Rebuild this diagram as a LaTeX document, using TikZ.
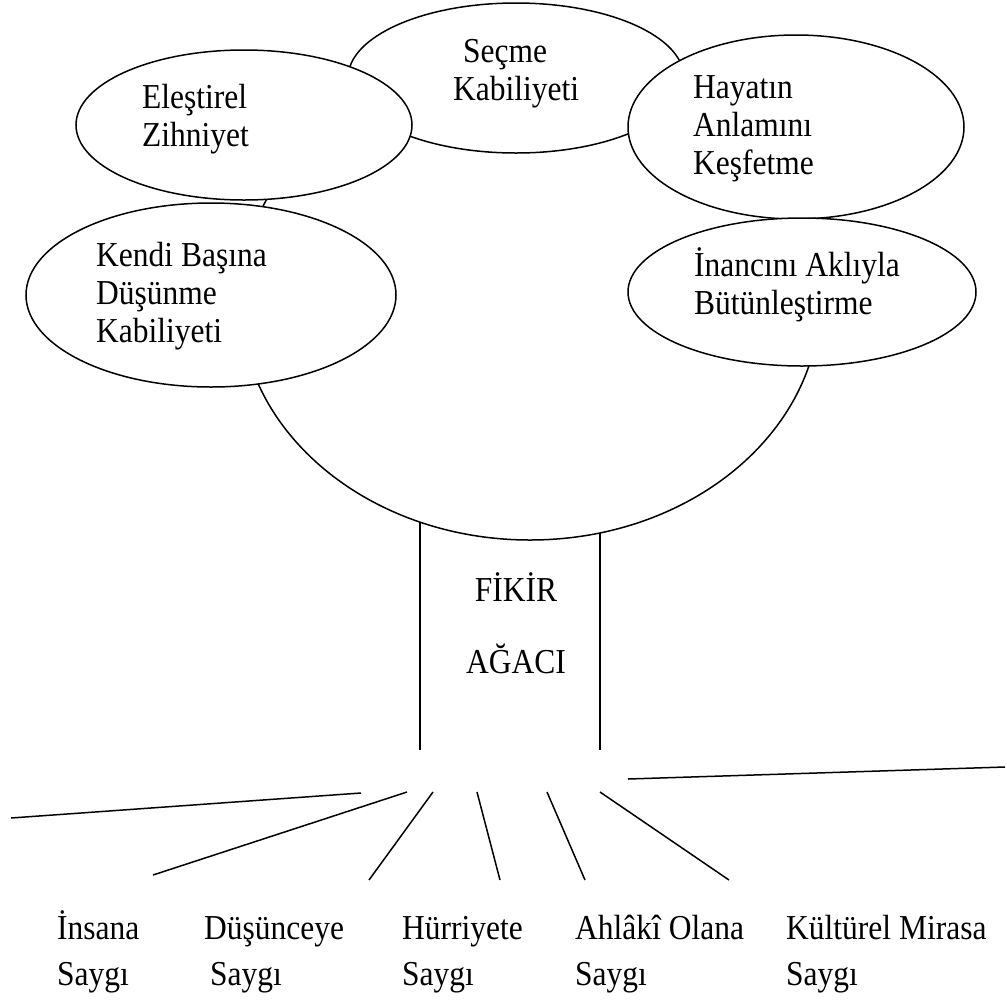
\documentclass[tikz,border=0pt]{standalone}
\usepackage{fontspec}
\setmainfont{Liberation Serif}[FakeStretch=0.9]
\usepackage{tikz}
\usetikzlibrary{calc}
\tikzset{>=latex}
\tikzset{
    bubble/.style={draw=black, fill=white, line width=1.5pt},
    crown/.style={draw=black, line width=1.5pt},
    trunk/.style={draw=black, line width=1.1pt},
    root/.style={draw=black, line width=1.5pt},
    word/.style={anchor=base west, align=left, inner sep=0pt,
        font=\fontsize{35}{38}\selectfont},
}

\begin{document}
\begin{tikzpicture}[x=1pt, y=-1pt]
                    \useasboundingbox (0,0) rectangle (1007,1005);
                    % crown and trunk
                    \draw[crown] (530,300) ellipse (290pt and 240pt);
                    \draw[trunk] (420,522) -- (420,750);
                    \draw[trunk] (600,533) -- (600,750);
                    % leaves
                    \draw[bubble] (516,78) ellipse (168pt and 75pt);
                    \draw[bubble] (244,125) ellipse (168pt and 75pt);
                    \draw[bubble] (796,127) ellipse (168pt and 92pt);
                    \draw[bubble] (211,295) ellipse (185pt and 92pt);
                    \draw[bubble] (802,292) ellipse (174pt and 74pt);
                    % (anchored at the baseline of the last line)
                    \node[word] (secme) at (453,100) {\hspace*{10pt}Seçme\\Kabiliyeti};
                    \node[word] (elestirel) at (142,146) {Eleştirel\\Zihniyet};
                    \node[word] (hayat) at (693,174) {Hayatın\\Anlamını\\Keşfetme};
                    \node[word] (kendi) at (96,342) {Kendi Başına\\Düşünme\\Kabiliyeti};
                    \node[word] (inanc) at (694,314) {İnancını Aklıyla\\Bütünleştirme};
                    \node[word, anchor=base, align=center] (fikir) at (516,673) {FİKİR\\[34pt]AĞACI};
                    % roots
                    \draw[root] (11,818) -- (361,793);
                    \draw[root] (153,875) -- (407,792);
                    \draw[root] (369,880) -- (433,792);
                    \draw[root] (477,792) -- (500,880);
                    \draw[root] (547,792) -- (585,880);
                    \draw[root] (600,792) -- (729,880);
                    \draw[root] (628,779) -- (1005,767);
                    % labels
                    \node[word] (insana) at (57,985) {İnsana\\[8pt]Saygı};
                    \node[word] (dusunce) at (204,985) {Düşünceye\\[8pt]\hspace*{6pt}Saygı};
                    \node[word] (hurriyet) at (402,985) {Hürriyete\\[8pt]Saygı};
                    \node[word] (ahlak) at (575,985) {Ahlâkî Olana\\[8pt]Saygı};
                    \node[word] (kultur) at (786,985) {Kültürel Mirasa\\[8pt]Saygı};
\end{tikzpicture}
\end{document}
